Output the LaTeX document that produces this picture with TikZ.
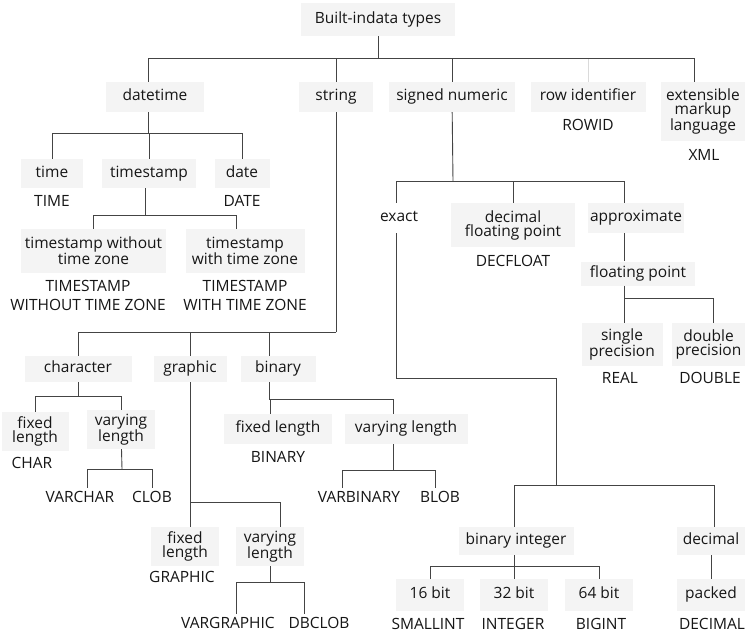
\documentclass[tikz,border=0pt]{standalone}
\usepackage{fontspec}
\setmainfont{Open Sans}
\usetikzlibrary{positioning}
\definecolor{boxfill}{HTML}{F4F4F4}
\definecolor{linegray}{HTML}{444444}
\definecolor{inkgray}{HTML}{161616}

\begin{document}
\begin{tikzpicture}[x=1pt, y=-1pt,
    every node/.style={font=\fontsize{15.5}{14}\selectfont, text=inkgray},
    tbox/.style={fill=boxfill, inner sep=0pt, align=center, text height=11pt, text depth=3.5pt},
    tboxm/.style={fill=boxfill, inner sep=0pt, align=center},
    tname/.style={inner sep=3pt, align=center, font=\fontsize{15.5}{19}\selectfont},
    link/.style={draw=linegray, line width=0.9pt}]

\fill[white] (0,0) rectangle (745,633);
\useasboundingbox (0,0) rectangle (745,633);

% Nodes
\node[tbox, minimum width=154, minimum height=33] (root) at (378,19.5) {Built-indata types};

\node[tbox, minimum width=98, minimum height=30] (datetime) at (155,97) {datetime};
\node[tbox, minimum width=74, minimum height=30] (string) at (336,97) {string};
\node[tbox, minimum width=126, minimum height=30] (signed) at (452,97) {signed numeric};
\node[tbox, minimum width=115, minimum height=30] (rowid) at (588,97) {row identifier};
\node[tboxm, minimum width=84, minimum height=59] (xml) at (703,111.5) {extensible\\markup\\language};
\node[tname] (ROWID) at (588,125) {ROWID};
\node[tname] (XML) at (704,155) {XML};

\node[tbox, minimum width=62, minimum height=29] (time) at (52,173.5) {time};
\node[tbox, minimum width=94, minimum height=29] (timestamp) at (149,173.5) {timestamp};
\node[tbox, minimum width=55, minimum height=29] (date) at (242,173.5) {date};
\node[tname] (TIME) at (52,201) {TIME};
\node[tname] (DATE) at (242,201) {DATE};
\node[tboxm, minimum width=145, minimum height=44] (tswo) at (93.5,251) {timestamp without\\time zone};
\node[tboxm, minimum width=119, minimum height=44] (tsw) at (245,251) {timestamp\\with time zone};
\node[tname] (TSWO) at (88,295.5) {TIMESTAMP\\WITHOUT TIME ZONE};
\node[tname] (TSW) at (245,295.5) {TIMESTAMP\\WITH TIME ZONE};

\node[tbox, minimum width=107, minimum height=26] (character) at (78,369) {character};
\node[tbox, minimum width=73, minimum height=26] (graphic) at (190,369) {graphic};
\node[tbox, minimum width=75, minimum height=26] (binary) at (278,369) {binary};

\node[tboxm, minimum width=67, minimum height=39] (fl1) at (35,431.5) {fixed\\length};
\node[tboxm, minimum width=68, minimum height=39] (vl1) at (121,429.5) {varying\\length};
\node[tname] (CHAR) at (32,463) {CHAR};
\node[tname] (VARCHAR) at (80,497) {VARCHAR};
\node[tname] (CLOB) at (152,497) {CLOB};

\node[tboxm, minimum width=68, minimum height=39] (fl2) at (185,546.5) {fixed\\length};
\node[tboxm, minimum width=68, minimum height=39] (vl2) at (270,546.5) {varying\\length};
\node[tname] (GRAPHIC) at (182,577) {GRAPHIC};
\node[tname] (VARGRAPHIC) at (228,623) {VARGRAPHIC};
\node[tname] (DBCLOB) at (319,623) {DBCLOB};

\node[tbox, minimum width=108, minimum height=30] (fl3) at (278,429) {fixed length};
\node[tbox, minimum width=123, minimum height=30] (vl3) at (406,429) {varying length};
\node[tname] (BINARY) at (278,457) {BINARY};
\node[tname] (VARBINARY) at (359,497) {VARBINARY};
\node[tname] (BLOB) at (440,497) {BLOB};

\node[tbox, fill=none, minimum width=40, minimum height=30] (exact) at (399,218) {exact};
\node[tboxm, minimum width=124, minimum height=44] (dfp) at (513,225) {decimal\\floating point};
\node[tname] (DECFLOAT) at (513,261) {DECFLOAT};
\node[tbox, minimum width=96, minimum height=30] (approx) at (636,218) {approximate};
\node[tbox, minimum width=114, minimum height=24] (fp) at (638,273.5) {floating point};
\node[tboxm, minimum width=81, minimum height=43] (sp) at (622,344.5) {single\\precision};
\node[tboxm, minimum width=73, minimum height=43] (dp) at (708.5,344.5) {double\\precision};
\node[tname] (REAL) at (620,378) {REAL};
\node[tname] (DOUBLE) at (710,378) {DOUBLE};

\node[tbox, minimum width=115, minimum height=28] (binint) at (516,541) {binary integer};
\node[tbox, minimum width=68, minimum height=28] (decimal) at (711,541) {decimal};
\node[tbox, minimum width=68, minimum height=32] (b16) at (430,595) {16 bit};
\node[tbox, minimum width=68, minimum height=32] (b32) at (514,595) {32 bit};
\node[tbox, minimum width=68, minimum height=32] (b64) at (599,595) {64 bit};
\node[tbox, minimum width=68, minimum height=32] (packed) at (711,595) {packed};
\node[tname] (SMALLINT) at (428,624) {SMALLINT};
\node[tname] (INTEGER) at (513,624) {INTEGER};
\node[tname] (BIGINT) at (601,624) {BIGINT};
\node[tname] (DECIMAL) at (712,624) {DECIMAL};

% Lines
\coordinate (rootbus) at (378,58);
\draw[link] (root) -- (rootbus);
\draw[link, draw=linegray!20] (rootbus) -| (rowid);
\draw[link] (rootbus) -| ([xshift=-7pt]datetime.north);
\draw[link] (rootbus) -| (string);
\draw[link] (rootbus) -| (signed);
\draw[link] (rootbus) -| ([xshift=-9pt]xml.north);

\coordinate (dtbus) at (148,133);
\draw[link] ([xshift=-7pt]datetime.south) -- (dtbus);
\draw[link] (dtbus) -| (time);
\draw[link] (dtbus) -| (timestamp);
\draw[link] (dtbus) -| (date);

\coordinate (tsbus) at (145,215);
\draw[link] ([xshift=-4pt]timestamp.south) -- (tsbus);
\draw[link] (tsbus) -| (tswo);
\draw[link] (tsbus) -| ([xshift=-9pt]tsw.north);

\coordinate (strbus) at (336,332);
\draw[link] (string) -- (strbus);
\draw[link] (strbus) -| (character);
\draw[link] (strbus) -| (graphic);
\draw[link] (strbus) -| ([xshift=-9pt]binary.north);

\coordinate (chbus) at (78,396);
\draw[link] (character) -- (chbus);
\draw[link] (chbus) -| (fl1);
\draw[link] (chbus) -| (vl1);
\coordinate (vl1bus) at (122,469);
\draw[link] (vl1) -- (vl1bus);
\draw[link] (vl1bus) -| ([xshift=7pt]VARCHAR.north);
\draw[link] (vl1bus) -| (CLOB);

\coordinate (grbus) at (190,502);
\draw[link] (graphic) -- ([xshift=5pt]fl2.north);
\draw[link] (grbus) -| ([xshift=10pt]vl2.north);
\coordinate (vl2bus) at (270,582);
\draw[link] (vl2) -- (vl2bus);
\draw[link] (vl2bus) -| ([xshift=8pt]VARGRAPHIC.north);
\draw[link] (vl2bus) -| ([xshift=-15pt]DBCLOB.north);

\coordinate (bibus) at (269,399);
\draw[link] ([xshift=-9pt]binary.south) -- (bibus);
\draw[link] (bibus) -| ([xshift=-8pt]fl3.north);
\draw[link] (bibus) -| ([xshift=-13pt]vl3.north);
\coordinate (vl3bus) at (393,470);
\draw[link] ([xshift=-13pt]vl3.south) -- (vl3bus);
\draw[link] (vl3bus) -| ([xshift=-17pt]VARBINARY.north);
\draw[link] (vl3bus) -| ([xshift=-5pt]BLOB.north);

\coordinate (snbus) at (453,181);
\draw[link] (signed) -- (snbus);
\draw[link] (snbus) -| ([xshift=-3pt]exact.north);
\draw[link] (snbus) -| (dfp);
\draw[link] (snbus) -| ([xshift=-12pt]approx.north);
\draw[link] ([xshift=-12pt]approx.south) -- ([xshift=-14pt]fp.north);

\coordinate (fpbus) at (624,298);
\draw[link] ([xshift=-14pt]fp.south) -- (fpbus);
\draw[link] (fpbus) -| ([xshift=2pt]sp.north);
\draw[link] (fpbus) -| ([xshift=5pt]dp.north);

\coordinate (exbend) at (556,378);
\coordinate (exbus) at (556,485);
\draw[link] ([xshift=-3pt]exact.south) |- (exbend) -- (exbus);
\draw[link] (exbus) -| ([xshift=-2pt]binint.north);
\draw[link] (exbus) -| ([xshift=3pt]decimal.north);

\coordinate (bibus2) at (514,566);
\draw[link] ([xshift=-2pt]binint.south) -- (bibus2);
\draw[link] (bibus2) -| (b16);
\draw[link] (bibus2) -| (b32);
\draw[link] (bibus2) -| (b64);
\draw[link] (decimal) -- (packed);
\end{tikzpicture}
\end{document}
